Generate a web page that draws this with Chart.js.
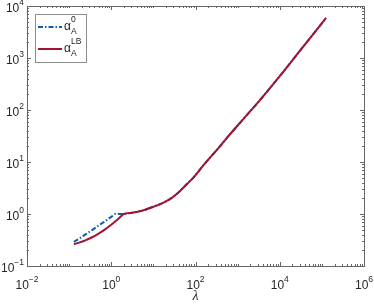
<!DOCTYPE html>
<html>
<head>
<meta charset="utf-8">
<script src="https://cdn.jsdelivr.net/npm/chart.js@4.4.1/dist/chart.umd.min.js"></script>
<style>
  html, body { margin: 0; padding: 0; background: #fff; }
  #wrap { width: 374px; height: 306px; }
</style>
</head>
<body>
<div id="wrap"><canvas id="myChart" width="374" height="306"></canvas></div>
<script>
// values
var lambda  = [0.13, 0.18, 0.25, 0.35, 0.5, 0.7, 1.0, 1.23, 1.5, 1.8, 1.95, 3.16, 5.75, 10, 17.4, 25.1, 36.3, 61.7, 89.1, 155, 224, 380, 550, 1380, 3390, 10000, 31600, 126000];
var alpha0  = [0.29, 0.343, 0.41, 0.49, 0.60, 0.72, 0.88, 1.0, 1.0, 1.0, 1.0, 1.06, 1.175, 1.38, 1.66, 1.95, 2.45, 3.72, 5.0, 8.7, 12.3, 20, 28.8, 67.6, 155, 447, 1445, 5890];
var alphaLB = [0.262, 0.284, 0.314, 0.357, 0.42, 0.502, 0.622, 0.714, 0.82, 0.94, 1.0, 1.06, 1.175, 1.38, 1.66, 1.95, 2.45, 3.72, 5.0, 8.7, 12.3, 20, 28.8, 67.6, 155, 447, 1445, 5890];

var xExps = [-2, 0, 2, 4, 6];          // labelled x ticks (powers of ten)
var yExps = [-1, 0, 1, 2, 3, 4];       // labelled y ticks

var blue = '#0b5fae';
var red = '#a2142f';
var axisColor = '#666666';
var textColor = '#262626';

function toPoints(xs, ys) {
    var pts = [];
    for (var i = 0; i < xs.length; i++) pts.push({ x: xs[i], y: ys[i] });
    return pts;
}

// draws "10" with a raised exponent, anchor = 'center' or 'right'
function drawPow(ctx, exp, x, y, anchor) {
    var base = '10', sup = String(exp).replace('-', '\u2212');
    ctx.font = '12px "Liberation Sans", Arial, sans-serif';
    var wb = ctx.measureText(base).width;
    ctx.font = '8.5px "Liberation Sans", Arial, sans-serif';
    var ws = ctx.measureText(sup).width;
    var total = wb + ws;
    var x0 = anchor === 'right' ? x - total : x - total / 2;
    ctx.fillStyle = textColor;
    ctx.textAlign = 'left';
    ctx.textBaseline = 'middle';
    ctx.font = '12px "Liberation Sans", Arial, sans-serif';
    ctx.fillText(base, x0, y);
    ctx.font = '8.5px "Liberation Sans", Arial, sans-serif';
    ctx.fillText(sup, x0 + wb, y - 6);
}

var axesPlugin = {
    id: 'matlabAxes',
    afterDraw: function(chart) {
        var ctx = chart.ctx, a = chart.chartArea;
        var xs = chart.scales.x, ys = chart.scales.y;
        ctx.save();
        ctx.strokeStyle = axisColor;
        ctx.lineWidth = 1;

        // box
        ctx.strokeRect(Math.round(a.left) + 0.5, Math.round(a.top) + 0.5,
            Math.round(a.right - a.left), Math.round(a.bottom - a.top));

        ctx.beginPath();
        // x ticks, inward, bottom and top
        for (var d = -2; d <= 6; d++) {
            for (var m = 1; m <= 9; m++) {
                if (d === 6 && m > 1) break;
                var px = Math.round(xs.getPixelForValue(m * Math.pow(10, d))) + 0.5;
                var len = (m === 1 && xExps.indexOf(d) >= 0) ? 4 : 2;
                ctx.moveTo(px, a.bottom); ctx.lineTo(px, a.bottom - len);
                ctx.moveTo(px, a.top); ctx.lineTo(px, a.top + len);
            }
        }
        // y ticks, inward, left and right
        for (var e = -1; e <= 4; e++) {
            for (var k = 1; k <= 9; k++) {
                if (e === 4 && k > 1) break;
                var py = Math.round(ys.getPixelForValue(k * Math.pow(10, e))) + 0.5;
                var l2 = k === 1 ? 4 : 2;
                ctx.moveTo(a.left, py); ctx.lineTo(a.left + l2, py);
                ctx.moveTo(a.right, py); ctx.lineTo(a.right - l2, py);
            }
        }
        ctx.stroke();

        // tick labels
        xExps.forEach(function(ex) {
            drawPow(ctx, ex, xs.getPixelForValue(Math.pow(10, ex)), a.bottom + 20, 'center');
        });
        yExps.forEach(function(ey) {
            drawPow(ctx, ey, a.left - 3, ys.getPixelForValue(Math.pow(10, ey)) + 3, 'right');
        });

        // axis title
        ctx.fillStyle = textColor;
        ctx.font = 'italic 14px "Liberation Serif", serif';
        ctx.textAlign = 'center';
        ctx.textBaseline = 'middle';
        ctx.fillText('\u03bb', (a.left + a.right) / 2, 296);

        // legend
        var lx = 35, ly = 14, lw = 51, lh = 48;
        ctx.fillStyle = '#fff';
        ctx.fillRect(lx, ly, lw, lh);
        ctx.strokeStyle = '#8c8c8c';
        ctx.strokeRect(lx + 0.5, ly + 0.5, lw, lh);

        var entries = [
            { color: blue, dash: [5, 2, 1.5, 2], sup: '0', y: 27 },
            { color: red, dash: [], sup: 'LB', y: 49 }
        ];
        entries.forEach(function(en) {
            ctx.strokeStyle = en.color;
            ctx.lineWidth = 2;
            ctx.setLineDash(en.dash);
            ctx.beginPath();
            ctx.moveTo(38, en.y); ctx.lineTo(62, en.y);
            ctx.stroke();
            ctx.setLineDash([]);
            ctx.fillStyle = textColor;
            ctx.textAlign = 'left';
            ctx.textBaseline = 'middle';
            ctx.font = '12px "Liberation Sans", Arial, sans-serif';
            ctx.fillText('\u03b1', 64, en.y);
            ctx.font = '8.5px "Liberation Sans", Arial, sans-serif';
            ctx.fillText(en.sup, 71, en.y - 7);
            ctx.fillText('A', 71, en.y + 5);
        });
        ctx.restore();
    }
};

var myChart = new Chart(document.getElementById('myChart').getContext('2d'), {
    type: 'scatter',
    data: {
        datasets: [
            {
                label: 'alpha_A^0',
                data: toPoints(lambda, alpha0),
                showLine: true,
                borderColor: blue,
                borderWidth: 2,
                borderDash: [5, 2, 1.5, 2],
                pointRadius: 0,
                cubicInterpolationMode: 'monotone',
                order: 2
            },
            {
                label: 'alpha_A^LB',
                data: toPoints(lambda, alphaLB),
                showLine: true,
                borderColor: red,
                borderWidth: 2,
                pointRadius: 0,
                cubicInterpolationMode: 'monotone',
                order: 1
            }
        ]
    },
    options: {
        responsive: false,
        animation: false,
        layout: { padding: { left: 27, right: 10, top: 6, bottom: 40 } },
        plugins: { legend: { display: false }, tooltip: { enabled: false } },
        scales: {
            x: { type: 'logarithmic', min: 0.01, max: 1e6, display: false },
            y: { type: 'logarithmic', min: 0.1, max: 1e4, display: false }
        }
    },
    plugins: [axesPlugin]
});
</script>
</body>
</html>
